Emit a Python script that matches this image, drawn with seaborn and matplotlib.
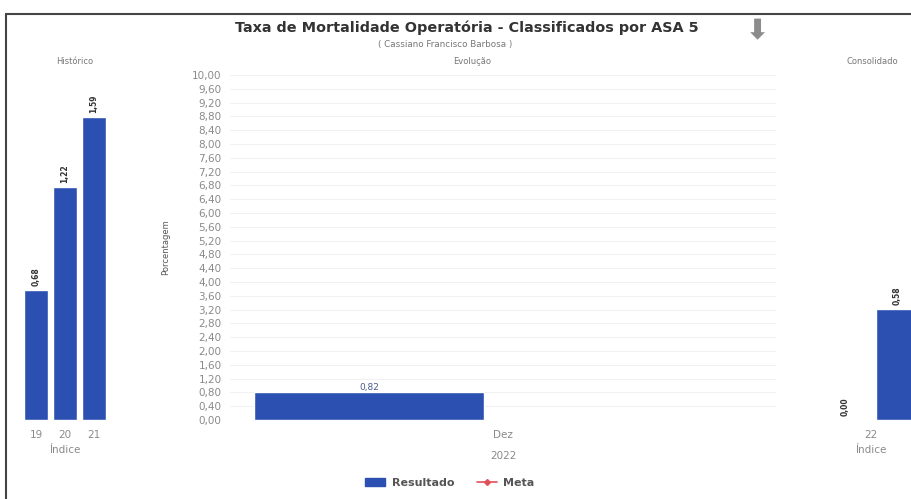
import numpy as np
import pandas as pd
import seaborn as sns
import matplotlib.pyplot as plt
from matplotlib.lines import Line2D
from matplotlib.patches import Patch

hist_anos = ['19', '20', '21']
hist_valores = [0.68, 1.22, 1.59]
hist_rotulos = ['0,68', '1,22', '1,59']

evol_meses = ['Dez']
evol_resultado = [0.82]
evol_rotulos = ['0,82']

cons_anos = ['22', '22']
cons_series = ['Meta', 'Resultado']
cons_valores = [0.00, 0.58]
cons_rotulos = ['0,00', '0,58']

y_ticks = np.arange(0, 10.01, 0.4)

azul = '#2c50b2'
vermelho = '#e0505a'
cinza = '#8a8a8a'

sns.set_style('white')
plt.rcParams['font.family'] = ['DejaVu Sans']

fig = plt.figure(figsize=(9.11, 4.99), dpi=100)

def fx(px):
    return px / 911

def fy(py):
    return 1 - py / 499

base, topo = 420, 75
h = (base - topo) / 499

# ---- Histórico ----
ax1 = fig.add_axes([fx(21.5), fy(base), fx(87), h])
df_hist = pd.DataFrame({'ano': hist_anos, 'valor': hist_valores})
sns.barplot(data=df_hist, x='ano', y='valor', color=azul, width=0.8,
            saturation=1, ax=ax1)
ax1.bar_label(ax1.containers[0], labels=hist_rotulos, rotation=90,
              fontsize=5.5, fontweight='bold', color='#333333', padding=3)
ax1.set_ylim(0, 1.81)
ax1.set_yticks([])
ax1.set_ylabel('')
ax1.set_xlabel('Índice', fontsize=7.5, color=cinza, labelpad=4)
ax1.tick_params(axis='x', length=0, labelsize=7.5, labelcolor=cinza, pad=7)
sns.despine(ax=ax1, left=True, bottom=True)

# ---- Evolução ----
ax2 = fig.add_axes([fx(230), fy(base), fx(546), h])
df_evol = pd.DataFrame({'mes': evol_meses, 'serie': ['Resultado'],
                        'valor': evol_resultado})
sns.barplot(data=df_evol, x='mes', y='valor', hue='serie',
            hue_order=['Resultado', 'Meta'], dodge=True,
            palette={'Resultado': azul, 'Meta': vermelho},
            width=0.98, gap=0.14, saturation=1, legend=False, ax=ax2)
ax2.bar_label(ax2.containers[0], labels=evol_rotulos, fontsize=6.5,
              color='#4b5b8c', padding=0)
ax2.set_xlim(-0.5, 0.5)
ax2.set_ylim(0, 10)
ax2.set_yticks(y_ticks)
ax2.set_yticklabels([f'{v:.2f}'.replace('.', ',') for v in y_ticks])
ax2.yaxis.grid(True, color='#f1f1f1', lw=0.8)
ax2.set_axisbelow(True)
ax2.set_ylabel('Porcentagem', fontsize=6, color='#555555', labelpad=16)
ax2.set_xlabel('2022', fontsize=7.5, color=cinza, labelpad=8)
ax2.tick_params(axis='both', length=0, labelsize=7.5, labelcolor=cinza, pad=7)
ax2.tick_params(axis='y', pad=6)
sns.despine(ax=ax2, left=True, bottom=True)

# ---- Consolidado ----
ax3 = fig.add_axes([fx(806), fy(base), fx(130), h])
df_cons = pd.DataFrame({'ano': cons_anos, 'serie': cons_series,
                        'valor': cons_valores})
sns.barplot(data=df_cons, x='ano', y='valor', hue='serie',
            hue_order=['Meta', 'Resultado'],
            palette={'Meta': azul, 'Resultado': azul},
            width=0.8, gap=0.2, saturation=1, legend=False, ax=ax3)
for cont, rot in zip(ax3.containers, cons_rotulos):
    ax3.bar_label(cont, labels=[rot], rotation=90, fontsize=5.5,
                  fontweight='bold', color='#333333', padding=3)
ax3.set_xlim(-0.5, 0.5)
ax3.set_ylim(0, 1.81)
ax3.set_yticks([])
ax3.set_ylabel('')
ax3.set_xlabel('Índice', fontsize=7.5, color=cinza, labelpad=4)
ax3.tick_params(axis='x', length=0, labelsize=7.5, labelcolor=cinza, pad=7)
sns.despine(ax=ax3, left=True, bottom=True)

# títulos
fig.text(fx(467), fy(28), 'Taxa de Mortalidade Operatória - Classificados por ASA 5',
         ha='center', va='center', fontsize=10.4, fontweight='bold', color='#333333')
fig.text(fx(445), fy(45), '( Cassiano Francisco Barbosa )',
         ha='center', va='center', fontsize=6.3, color='#777777')
fig.text(fx(757), fy(31), '⬇', ha='center', va='center', fontsize=20,
         fontweight='bold', color='#8c8c8c')
fig.text(fx(75), fy(62), 'Histórico', ha='center', va='center', fontsize=6, color='#777777')
fig.text(fx(472), fy(62), 'Evolução', ha='center', va='center', fontsize=6, color='#777777')
fig.text(fx(872), fy(62), 'Consolidado', ha='center', va='center', fontsize=6, color='#777777')

# moldura do painel
fig.add_artist(Line2D([fx(6), 1], [fy(14), fy(14)], color='#444444', lw=1.5))
fig.add_artist(Line2D([fx(6), fx(6)], [0, fy(14)], color='#444444', lw=1.5))

# legenda
handles = [Patch(facecolor=azul, edgecolor=azul),
           Line2D([0], [0], color=vermelho, lw=1.2, marker='D', markersize=3)]
leg = fig.legend(handles, ['Resultado', 'Meta'], loc='center',
                 bbox_to_anchor=(fx(450), fy(483)), ncol=2, frameon=False,
                 fontsize=8, handlelength=1.8, columnspacing=2.0, handletextpad=0.6)
for t in leg.get_texts():
    t.set_fontweight('bold')
    t.set_color('#555555')

plt.savefig('out.png', dpi=100)
